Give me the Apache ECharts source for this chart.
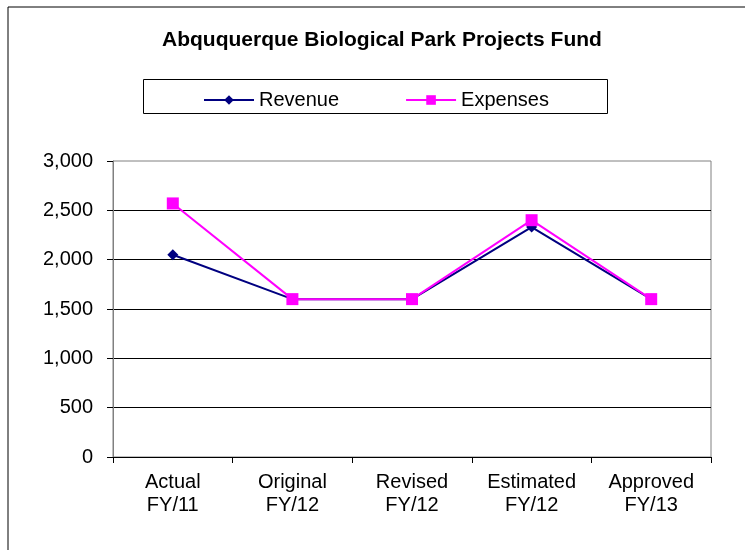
<!DOCTYPE html>
<html>
<head>
<meta charset="utf-8">
<script src="https://cdn.jsdelivr.net/npm/echarts@6/dist/echarts.min.js"></script>
<style>
  html, body { margin: 0; padding: 0; background: #fff; }
  #main { width: 745px; height: 550px; }
</style>
</head>
<body>
<div id="main"></div>
<script>
// chart data
var categories = ['Actual\nFY/11', 'Original\nFY/12', 'Revised\nFY/12', 'Estimated\nFY/12', 'Approved\nFY/13'];
var revenue = [2050, 1600, 1600, 2330, 1600];
var expenses = [2570, 1600, 1600, 2400, 1600];
var yTicks = [0, 500, 1000, 1500, 2000, 2500, 3000];

var font = '"Liberation Sans", Arial, sans-serif';
var myChart = echarts.init(document.getElementById('main'));

var option = {
    backgroundColor: '#fff',
    animation: false,
    title: {
        text: 'Abququerque Biological Park Projects Fund',
        left: 157,
        top: 25,
        textStyle: { fontFamily: font, fontSize: 21, fontWeight: 'bold', color: '#000' }
    },
    graphic: [
        // outer frame
        { type: 'rect', shape: { x: 8, y: 7, width: 760, height: 600 },
          style: { fill: 'none', stroke: '#000', lineWidth: 1 }, silent: true },
        // legend box
        { type: 'rect', shape: { x: 143.5, y: 79.5, width: 464, height: 34 },
          style: { fill: '#fff', stroke: '#000', lineWidth: 1 }, z: -1, silent: true }
    ],
    legend: {
        left: 198,
        top: 85,
        itemWidth: 50,
        itemHeight: 12,
        itemGap: 66,
        textStyle: { fontFamily: font, fontSize: 20, color: '#000' },
        data: ['Revenue', 'Expenses']
    },
    grid: {
        left: 113, right: 34, top: 161, bottom: 93,
        show: true, borderColor: '#808080', borderWidth: 1
    },
    xAxis: {
        type: 'category',
        data: categories,
        boundaryGap: true,
        axisLine: { lineStyle: { color: '#000', width: 1 } },
        axisTick: { show: true, alignWithLabel: false, length: 6, lineStyle: { color: '#000' } },
        axisLabel: { fontFamily: font, fontSize: 20, color: '#000', lineHeight: 23, margin: 14 },
        splitLine: { show: false }
    },
    yAxis: {
        type: 'value',
        min: yTicks[0],
        max: yTicks[yTicks.length - 1],
        interval: 500,
        axisLine: { show: true, lineStyle: { color: '#808080', width: 1 } },
        axisTick: { show: true, length: 6, lineStyle: { color: '#000' } },
        axisLabel: {
            fontFamily: font, fontSize: 20, color: '#000', margin: 20,
            formatter: function (v) { return v.toLocaleString('en-US'); }
        },
        splitLine: { show: true, showMaxLine: false, lineStyle: { color: '#000', width: 1 } }
    },
    series: [
        {
            name: 'Revenue',
            type: 'line',
            data: revenue,
            symbol: 'diamond',
            symbolSize: 11,
            showAllSymbol: true,
            lineStyle: { color: '#000080', width: 2 },
            itemStyle: { color: '#000080' },
            z: 2
        },
        {
            name: 'Expenses',
            type: 'line',
            data: expenses,
            symbol: 'rect',
            symbolSize: 12,
            showAllSymbol: true,
            lineStyle: { color: '#ff00ff', width: 2 },
            itemStyle: { color: '#ff00ff' },
            z: 3
        }
    ]
};

option && myChart.setOption(option);
</script>
</body>
</html>
